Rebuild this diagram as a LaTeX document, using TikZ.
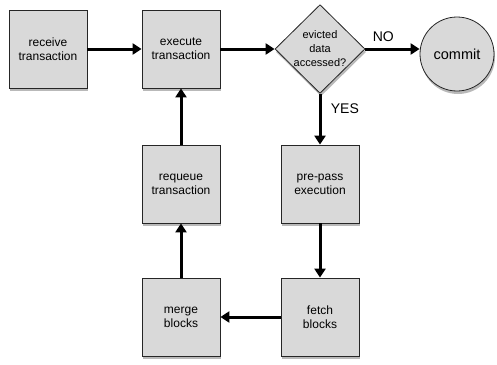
\documentclass[tikz,border=0pt]{standalone}
\usepackage{fontspec}
\setmainfont{Liberation Sans}
\usetikzlibrary{shapes.geometric,shadows,arrows.meta}

\tikzset{
	stepbox/.style={draw=black!85, line width=0.8pt, fill=black!15,
		minimum size=78pt, inner sep=0pt, align=center,
		font=\fontsize{12}{14}\selectfont,
		drop shadow={shadow xshift=1pt, shadow yshift=-3pt, opacity=0.55}},
	decide/.style={diamond, draw=black!85, line width=0.8pt, fill=black!15,
		minimum width=90pt, minimum height=87pt, inner sep=0pt, align=center,
		font=\fontsize{11}{14}\selectfont,
		drop shadow={shadow xshift=1pt, shadow yshift=-3pt, opacity=0.55}},
	finish/.style={circle, draw=black!85, line width=0.8pt, fill=black!15,
		minimum size=74pt, inner sep=0pt, font=\fontsize{14.5}{16}\selectfont,
		drop shadow={shadow xshift=1pt, shadow yshift=-3pt, opacity=0.55}},
	flow/.style={-{Triangle[length=9pt, width=11pt]}, line width=3pt},
	answer/.style={font=\fontsize{14}{16}\selectfont}
}

\begin{document}
\begin{tikzpicture}[x=1pt, y=-1pt]
	\useasboundingbox (0,0) rectangle (497,364);
	% top row
	\node[stepbox] (receive) at (48,49) {receive\\transaction};
	\node[stepbox] (execute) at (181,49) {execute\\transaction};
	\node[decide] (evicted) at (320,49) {evicted\\data\\accessed?};
	\node[finish] (commit) at (457,54) {commit};
	% middle row
	\node[stepbox] (requeue) at (181,184) {requeue\\transaction};
	\node[stepbox] (prepass) at (320,184) {pre-pass\\execution};
	% bottom row
	\node[stepbox] (merge) at (181,317) {merge\\blocks};
	\node[stepbox] (fetch) at (320,317) {fetch\\blocks};
	% connectors
	\draw[flow] (receive) -- (execute);
	\draw[flow] (execute) -- (evicted);
	\draw[flow] (evicted.east) -- (evicted.east -| commit.west)
		node[answer, pos=0.33, above=3pt] (no) {NO};
	\draw[flow] (evicted.south) -- (prepass.north)
		node[answer, pos=0.3, right=6pt] (yes) {YES};
	\draw[flow] (prepass) -- (fetch);
	\draw[flow] (fetch) -- (merge);
	\draw[flow] (merge) -- (requeue);
	\draw[flow] (requeue) -- (execute);
\end{tikzpicture}
\end{document}
